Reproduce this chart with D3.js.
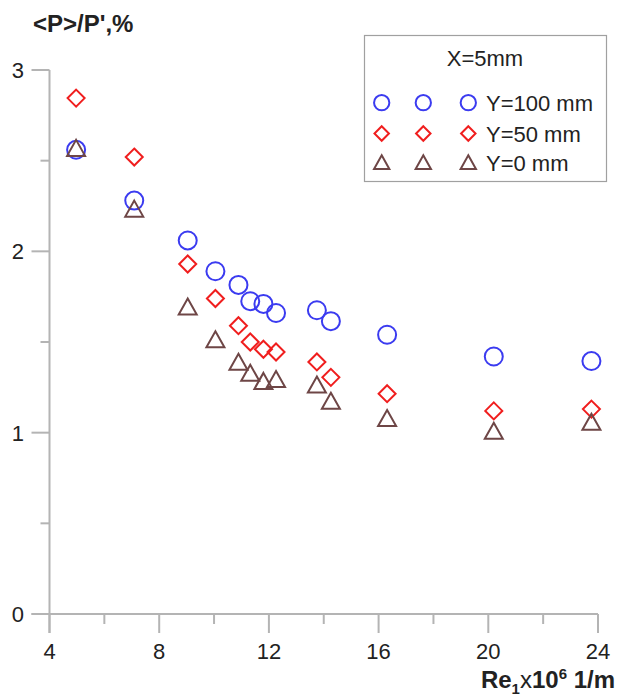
<!DOCTYPE html>
<html>
<head>
<meta charset="utf-8">
<script src="https://cdn.jsdelivr.net/npm/d3@7"></script>
<style>
body{margin:0;background:#fff;}
text{font-family:"Liberation Sans",Arial,sans-serif;}
</style>
</head>
<body>
<script>
// Re1 x 10^6 1/m, same for the three series
var re = [4.97, 7.09, 9.04, 10.05, 10.89, 11.32, 11.8, 12.26, 13.75, 14.26, 16.31, 20.2, 23.76];
var y100 = [2.56, 2.28, 2.06, 1.89, 1.815, 1.725, 1.71, 1.66, 1.675, 1.615, 1.54, 1.42, 1.395];
var y50 = [2.845, 2.52, 1.93, 1.74, 1.59, 1.5, 1.46, 1.445, 1.39, 1.305, 1.215, 1.12, 1.13];
var y0 = [2.565, 2.23, 1.69, 1.51, 1.385, 1.325, 1.28, 1.29, 1.26, 1.17, 1.075, 1.005, 1.055];
var seriesNames = ["Y=100 mm", "Y=50 mm", "Y=0 mm"];
var xTicks = [4, 8, 12, 16, 20, 24];
var yTicks = [0, 1, 2, 3];

var width = 619, height = 698;
var svg = d3.select("body").append("svg")
	.attr("width", width)
	.attr("height", height);

var x = d3.scaleLinear().domain([4, 24]).range([49.5, 598]);
var y = d3.scaleLinear().domain([0, 3]).range([614, 70]);
var axisColor = "#b4b4b4";

// axes lines
svg.append("line")
	.attr("x1", x(4)).attr("x2", x(4))
	.attr("y1", y(3)).attr("y2", y(0) + 19)
	.attr("stroke", axisColor).attr("stroke-width", 2);
svg.append("line")
	.attr("x1", x(4) - 18).attr("x2", x(24))
	.attr("y1", y(0)).attr("y2", y(0))
	.attr("stroke", axisColor).attr("stroke-width", 2);

// x ticks
svg.selectAll("line.xt")
	.data(d3.range(4, 25, 2))
	.enter().append("line")
	.attr("x1", function(d){ return x(d); })
	.attr("x2", function(d){ return x(d); })
	.attr("y1", y(0))
	.attr("y2", function(d){ return y(0) + (d % 4 === 0 ? 19 : 10); })
	.attr("stroke", axisColor).attr("stroke-width", 2);

svg.selectAll("text.xl")
	.data(xTicks)
	.enter().append("text")
	.text(function(d){ return d; })
	.attr("x", function(d){ return x(d); })
	.attr("y", 659)
	.attr("text-anchor", "middle")
	.attr("font-size", 22)
	.attr("fill", "#222");

// y ticks
svg.selectAll("line.yt")
	.data(d3.range(0, 3.01, 0.5))
	.enter().append("line")
	.attr("x1", function(d){ return x(4) - (d % 1 === 0 ? 18 : 9); })
	.attr("x2", x(4))
	.attr("y1", function(d){ return y(d); })
	.attr("y2", function(d){ return y(d); })
	.attr("stroke", axisColor).attr("stroke-width", 2);

svg.selectAll("text.yl")
	.data(yTicks)
	.enter().append("text")
	.text(function(d){ return d; })
	.attr("x", 24)
	.attr("y", function(d){ return y(d) + 8; })
	.attr("text-anchor", "end")
	.attr("font-size", 22)
	.attr("fill", "#222");

// titles
svg.append("text")
	.text("<P>/P',%")
	.attr("x", 33).attr("y", 32)
	.attr("font-size", 24).attr("font-weight", "bold")
	.attr("fill", "#222");

var xt = svg.append("text")
	.attr("x", 615).attr("y", 688)
	.attr("text-anchor", "end")
	.attr("font-size", 24).attr("font-weight", "bold")
	.attr("fill", "#222");
xt.append("tspan").text("Re");
xt.append("tspan").text("1").attr("font-size", 15).attr("dy", 6);
xt.append("tspan").text("x").attr("font-weight", "normal").attr("dy", -6);
xt.append("tspan").text("10");
xt.append("tspan").text("6").attr("font-size", 15).attr("dy", -9);
xt.append("tspan").text(" 1/m").attr("dy", 9);

// markers
var colors = ["#3b3bf0", "#f01e1e", "#6e4646"];
var shapes = [
	function(g, s){ g.append("circle").attr("r", 9 * s); },
	function(g, s){ g.append("path").attr("d", "M0," + (-8.5 * s) + "L" + (8.5 * s) + ",0L0," + (8.5 * s) + "L" + (-8.5 * s) + ",0Z"); },
	function(g, s){ g.append("path").attr("d", "M0," + (-9 * s) + "L" + (9 * s) + "," + (7 * s) + "L" + (-9 * s) + "," + (7 * s) + "Z"); }
];
var seriesVals = [y100, y50, y0];

function drawSeries(k){
	var pts = svg.append("g").selectAll("g")
		.data(seriesVals[k])
		.enter().append("g")
		.attr("transform", function(d, i){ return "translate(" + x(re[i]) + "," + y(d) + ")"; });
	pts.each(function(){ shapes[k](d3.select(this), 1); });
	pts.selectAll("circle,path")
		.attr("fill", "none")
		.attr("stroke", colors[k])
		.attr("stroke-width", 2);
}
drawSeries(0);
drawSeries(1);
drawSeries(2);

// legend
var legend = svg.append("g");
legend.append("rect")
	.attr("x", 364.5).attr("y", 35.5)
	.attr("width", 242).attr("height", 146)
	.attr("fill", "#fff")
	.attr("stroke", "#a0a0a0").attr("stroke-width", 1.2);
legend.append("text")
	.text("X=5mm")
	.attr("x", 485).attr("y", 66)
	.attr("text-anchor", "middle")
	.attr("font-size", 22)
	.attr("fill", "#222");

var rowY = [102.7, 133.5, 163];
var colX = [381.7, 423.3, 468.3];
seriesNames.forEach(function(name, k){
	colX.forEach(function(cx){
		var g = legend.append("g").attr("transform", "translate(" + cx + "," + rowY[k] + ")");
		shapes[k](g, 0.85);
		g.selectAll("circle,path")
			.attr("fill", "none")
			.attr("stroke", colors[k])
			.attr("stroke-width", 2);
	});
	legend.append("text")
		.text(name)
		.attr("x", 486).attr("y", rowY[k] + 8)
		.attr("font-size", 22)
		.attr("fill", "#222");
});
</script>
</body>
</html>
